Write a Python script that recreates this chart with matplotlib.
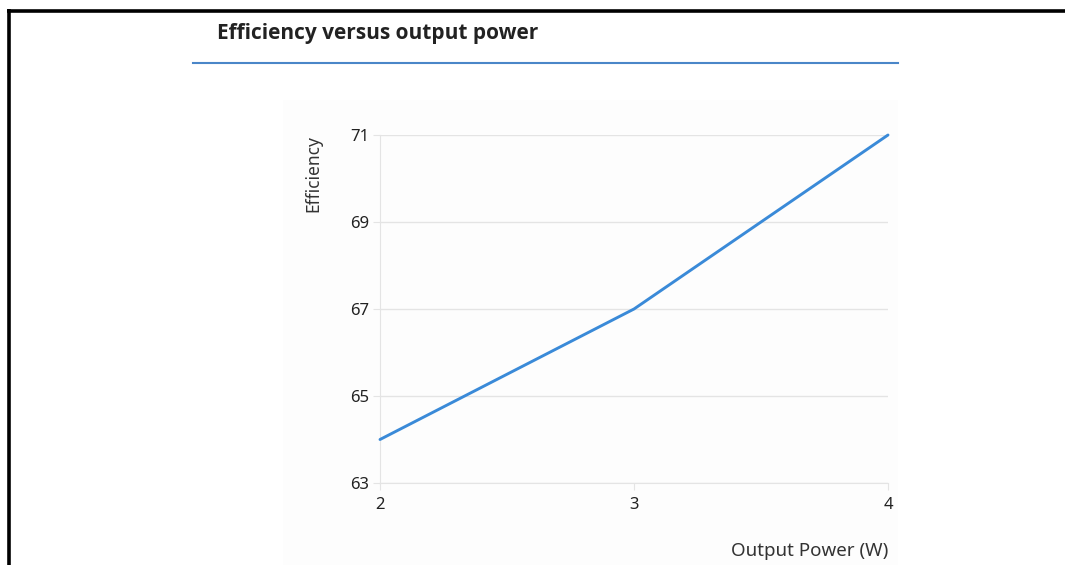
import matplotlib
matplotlib.use("Agg")
import matplotlib.pyplot as plt
from matplotlib.lines import Line2D
from matplotlib.patches import Rectangle

# ── data ──────────────────────────────────────────────
power_w = [2, 3, 4]
efficiency = [64, 67, 71]
y_ticks = [63, 65, 67, 69, 71]
x_ticks = [2, 3, 4]

W, H = 1065, 565
fig = plt.figure(figsize=(W / 100, H / 100), dpi=100)
fig.patch.set_facecolor("white")

# faint panel behind the chart
fig.patches.append(Rectangle((283 / W, 0), (898 - 283) / W, 1 - 100 / H,
                             transform=fig.transFigure, facecolor="#fdfdfd",
                             edgecolor="none", zorder=-10))

# black frame (top + left)
fig.add_artist(Line2D([7 / W, 1], [1 - 10.5 / H, 1 - 10.5 / H], transform=fig.transFigure,
                      color="black", lw=2.6, solid_capstyle="butt"))
fig.add_artist(Line2D([8.5 / W, 8.5 / W], [0, 1 - 9 / H], transform=fig.transFigure,
                      color="black", lw=2.6, solid_capstyle="butt"))

# title + blue rule
fig.text(217 / W, 1 - 33 / H, "Efficiency versus output power", fontsize=15,
         fontweight="bold", family="Open Sans", color="#222222", va="center", ha="left")
fig.add_artist(Line2D([193 / W, 898 / W], [1 - 62.5 / H, 1 - 62.5 / H], transform=fig.transFigure,
                      color="#4a86c8", lw=1.5))

ax = fig.add_axes([380 / W, 1 - 483 / H, 508 / W, 348 / H])
ax.set_zorder(5)
ax.set_facecolor("none")
ax.plot(power_w, efficiency, color="#3a8ad8", lw=2.1, solid_capstyle="round", clip_on=False, zorder=3)

ax.set_xlim(2, 4)
ax.set_ylim(63, 71)
ax.set_xticks(x_ticks)
ax.set_yticks(y_ticks)
ax.set_xticklabels([str(v) for v in x_ticks])
ax.set_yticklabels([str(v) for v in y_ticks])
ax.grid(axis="y", color="#e4e4e4", lw=1.0)
for s in ["top", "right"]:
    ax.spines[s].set_visible(False)
ax.spines["left"].set_color("#e4e4e4")
ax.spines["bottom"].set_color("#e4e4e4")
ax.tick_params(axis="y", length=5, color="#e4e4e4", labelsize=12, labelcolor="#222222", pad=3)
ax.tick_params(axis="x", length=5, color="#e4e4e4", labelsize=12, labelcolor="#222222", pad=5)
for lbl in ax.get_xticklabels() + ax.get_yticklabels():
    lbl.set_family("Noto Sans")

fig.text(313 / W, 1 - 135 / H, "Efficiency", rotation=90, fontsize=12.5, family="Noto Sans",
         color="#333333", ha="center", va="top")
fig.text(888 / W, 1 - 551 / H, "Output Power (W)", fontsize=13.5, family="Noto Sans",
         color="#333333", ha="right", va="center")

fig.savefig("out.png", dpi=100)
